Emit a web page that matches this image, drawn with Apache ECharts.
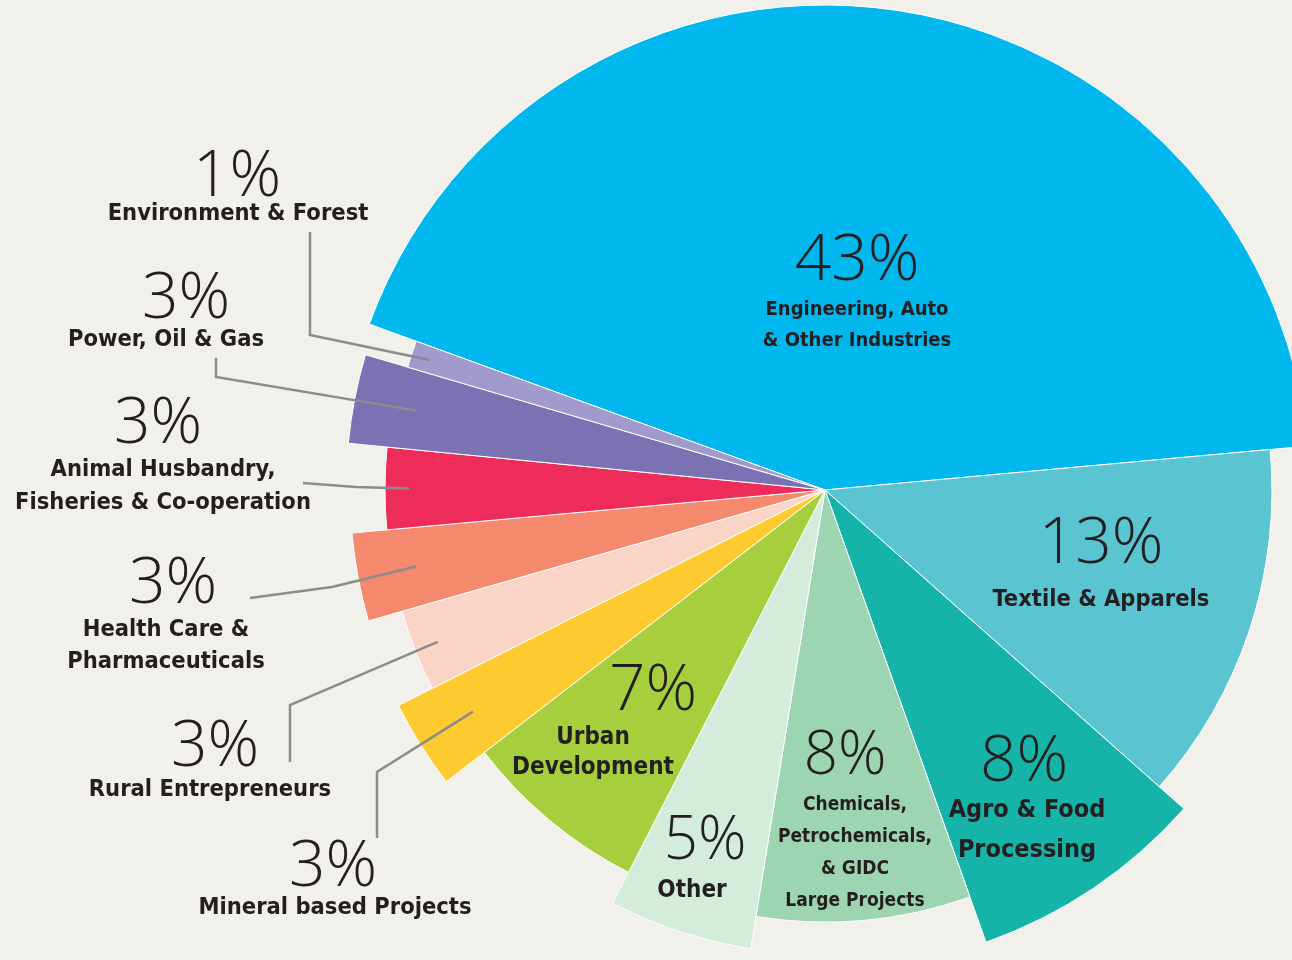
<!DOCTYPE html>
<html>
<head>
<meta charset="utf-8">
<title>Sector share</title>
<style>
  html, body { margin: 0; padding: 0; background: #f2f0eb; }
  #main { width: 1292px; height: 960px; }
</style>
<script src="https://cdn.jsdelivr.net/npm/echarts@6.0.0/dist/echarts.min.js"></script>
</head>
<body>
<div id="main"></div>
<script>
// sectors, clockwise starting with the big blue one
const sectors = [
  'Engineering, Auto\n& Other Industries',
  'Textile & Apparels',
  'Agro & Food\nProcessing',
  'Chemicals,\nPetrochemicals,\n& GIDC\nLarge Projects',
  'Other',
  'Urban\nDevelopment',
  'Mineral based Projects',
  'Rural Entrepreneurs',
  'Health Care &\nPharmaceuticals',
  'Animal Husbandry,\nFisheries & Co-operation',
  'Power, Oil & Gas',
  'Environment & Forest'
]
const shares = [43, 13, 8, 8, 5, 7, 3, 3, 3, 3, 3, 1] // %

const colors = [
  '#00b7ee', '#5bc4d1', '#16b3a8', '#9dd5b3', '#d3ecdc', '#a7ce3d',
  '#fdca2f', '#fad4c4', '#f5896e', '#ee2c59', '#7a72b3', '#a19bcd'
]

// ---- layout (sizes / positions only) ----
const CX = 825
const CY = 490
const START = 160
const LINE_R = 416 // leader lines start this far out, inside the slice
const radii = [485, 447, 480, 432, 465, 430, 478, 440, 475, 440, 479, 435]

// x = label centre, pctY = centre of the % line, nameY = centre of first name line
const labelSet = [
  { x: 857, pctY: 262, nameY: 310, nLH: 31, pFs: 64, nFs: 20, shift: 0 },
  { x: 1101, pctY: 545, nameY: 600, nLH: 32, pFs: 64, nFs: 23.5, shift: 0 },
  { x: 1027, pctY: 763, nameY: 810, nLH: 40, pFs: 64, nFs: 25, shift: -3 },
  { x: 855, pctY: 757, nameY: 805, nLH: 32, pFs: 60, nFs: 19, shift: -10 },
  { x: 692, pctY: 842, nameY: 891, nLH: 32, pFs: 60, nFs: 24, shift: 13 },
  { x: 593, pctY: 692, nameY: 738, nLH: 30, pFs: 64, nFs: 24, shift: 60 },
  { x: 335, pctY: 868, nameY: 908, nLH: 32, pFs: 64, nFs: 23.5, shift: -2, line: [[377, 772], [377, 838]] },
  { x: 210, pctY: 748, nameY: 790, nLH: 32, pFs: 64, nFs: 23.5, shift: 5, line: [[290, 705], [290, 762]] },
  { x: 166, pctY: 585, nameY: 630, nLH: 32, pFs: 64, nFs: 23.5, shift: 7, line: [[332, 587], [250, 598]] },
  { x: 163, pctY: 425, nameY: 470, nLH: 33, pFs: 64, nFs: 23.5, shift: -5, line: [[356, 487], [303, 483]] },
  { x: 166, pctY: 300, nameY: 340, nLH: 32, pFs: 64, nFs: 23.5, shift: 20, line: [[216, 377], [216, 358]] },
  { x: 238, pctY: 178, nameY: 214, nLH: 32, pFs: 64, nFs: 23.5, shift: -1, line: [[310, 335], [310, 232]] }
]

const pctFont = "'Open Sans', 'Lato', sans-serif"
const nameFont = "'DejaVu Sans Condensed', sans-serif"
const textColor = '#231f20'

const total = shares.reduce((a, b) => a + b, 0)

// mid angle (deg) of slice i, the same way the pie lays it out
function midAngle (i) {
  let before = 0
  for (let k = 0; k < i; k++) before += shares[k]
  return START - 360 * (before + shares[i] / 2) / total
}

function pctLineHeight (L) {
  return 2 * (L.nameY - L.pctY) - L.nLH
}

// one pie per slice so that every slice can get its own radius
const sliceSeries = shares.map((v, i) => ({
  type: 'pie',
  center: [CX, CY],
  radius: [0, radii[i]],
  startAngle: START,
  clockwise: true,
  silent: true,
  animation: false,
  z: 2,
  label: { show: false },
  labelLine: { show: false },
  data: shares.map((val, j) => ({
    value: val,
    name: sectors[j],
    itemStyle: j === i
      ? { color: colors[j], borderColor: '#ffffff', borderWidth: 1 }
      : { color: 'rgba(0,0,0,0)', borderWidth: 0 }
  }))
}))

// a see-through pie on top that only carries the labels and leader lines
const labelSeries = {
  type: 'pie',
  center: [CX, CY],
  radius: [0, 400],
  startAngle: START,
  clockwise: true,
  silent: true,
  animation: false,
  avoidLabelOverlap: false,
  z: 10,
  itemStyle: { color: 'rgba(0,0,0,0)', borderWidth: 0 },
  data: shares.map((v, i) => {
    const L = labelSet[i]
    const pad = L.shift >= 0 ? [0, 0, 0, L.shift * 2] : [0, -L.shift * 2, 0, 0]
    const nameText = sectors[i].split('\n').map(s => '{n|' + s + '}').join('\n')
    return {
      value: v,
      name: sectors[i],
      label: {
        show: true,
        position: L.line ? 'outside' : 'inside',
        formatter: '{p|' + v + '%}\n' + nameText,
        rich: {
          p: {
            fontFamily: pctFont,
            fontWeight: 300,
            fontSize: L.pFs,
            lineHeight: pctLineHeight(L),
            color: textColor,
            padding: pad
          },
          n: {
            fontFamily: nameFont,
            fontWeight: 'bold',
            fontSize: L.nFs,
            lineHeight: L.nLH,
            color: textColor
          }
        }
      },
      labelLine: {
        show: !!L.line,
        lineStyle: { color: '#8c8c8c', width: 2.5 }
      }
    }
  }),
  labelLayout: function (params) {
    const i = params.dataIndex
    const L = labelSet[i]
    const out = {
      x: L.x,
      y: L.pctY - pctLineHeight(L) / 2,
      align: 'center',
      verticalAlign: 'top'
    }
    if (L.line) {
      const a = midAngle(i) * Math.PI / 180
      const start = [CX + LINE_R * Math.cos(a), CY - LINE_R * Math.sin(a)]
      out.labelLinePoints = [start, L.line[0], L.line[1]]
    }
    return out
  }
}

const chart = echarts.init(document.getElementById('main'), null, { renderer: 'canvas' })
chart.setOption({
  backgroundColor: '#f2f0eb',
  series: sliceSeries.concat([labelSeries])
})
</script>
</body>
</html>
